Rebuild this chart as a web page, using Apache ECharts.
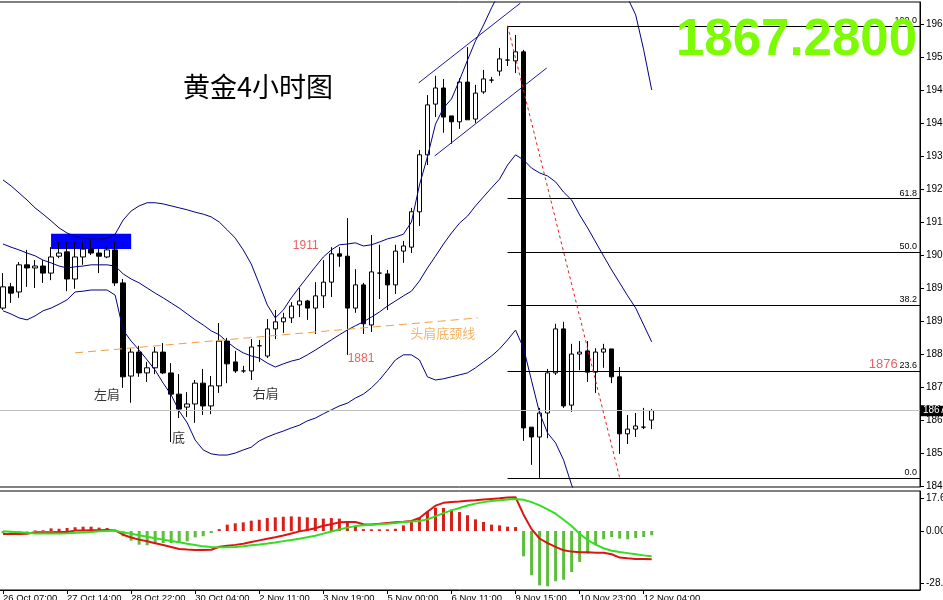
<!DOCTYPE html>
<html><head><meta charset="utf-8">
<script src="https://cdn.jsdelivr.net/npm/echarts@6.0.0/dist/echarts.min.js"></script>
<style>html,body{margin:0;padding:0;background:#fff}#c{width:943px;height:600px}</style>
</head><body><div id="c"></div>
<script>
// ---------- data ----------
const xTickIndex = [0, 8, 16, 24, 32, 40, 48, 56, 64, 72, 80];
const xTickLabels = ['26 Oct 07:00','27 Oct 14:00','28 Oct 22:00','30 Oct 04:00','2 Nov 11:00','3 Nov 19:00','5 Nov 00:00','6 Nov 11:00','9 Nov 15:00','10 Nov 23:00','12 Nov 04:00'];
const yTickValues = [1848, 1856.4, 1864.8, 1873.2, 1881.6, 1890, 1898.4, 1906.8, 1915.2, 1923.6, 1932, 1940.4, 1948.8, 1957.2, 1965.6];
const yTickLabels = ['1848','1856','1864','1873','1881','1890','1898','1906','1915','1923','1932','1940','1949','1957','1965'];
const macdTickValues = [17.6, 0, -28];
const macdTickLabels = ['17.6', '0.00', '-28.0'];

const open  = [1893.4,1898.8,1897.5,1904.4,1903.6,1904.1,1902.3,1906.6,1907.7,1900.8,1906.4,1908.4,1907.4,1906.4,1908.2,1899.8,1876.1,1882.2,1876.9,1878.2,1882.2,1876.9,1871.5,1868.2,1869.0,1874.3,1868.5,1873.6,1885.0,1879.7,1877.4,1877.4,1883.8,1881.2,1888.1,1889.9,1890.9,1894.2,1895.2,1893.4,1896.5,1900.0,1907.2,1906.6,1893.4,1899.3,1889.1,1902.3,1902.1,1899.3,1907.9,1908.9,1917.9,1932.4,1945.3,1949.4,1942.3,1940.8,1950.9,1941.5,1948.4,1951.4,1953.7,1956.5,1956.3,1958.6,1863.1,1860.6,1866.7,1876.9,1888.1,1868.7,1881.7,1882.5,1877.1,1882.2,1883.0,1875.9,1861.4,1862.6,1863.1,1864.9];
const close = [1898.8,1897.2,1904.4,1903.6,1904.1,1902.3,1906.4,1907.4,1900.8,1906.4,1908.4,1907.4,1906.6,1908.2,1899.8,1875.9,1882.2,1876.9,1878.2,1882.2,1876.9,1871.5,1867.7,1869.0,1874.3,1868.5,1873.6,1885.0,1879.2,1877.4,1877.4,1883.5,1883.8,1888.1,1889.9,1890.9,1893.9,1895.2,1893.4,1896.5,1900.0,1907.2,1906.6,1893.4,1899.3,1889.4,1902.6,1902.3,1899.3,1907.9,1909.2,1917.9,1932.4,1945.1,1949.4,1942.0,1940.8,1950.9,1941.3,1948.1,1951.7,1951.4,1956.8,1956.5,1958.6,1862.9,1860.6,1866.7,1876.9,1888.1,1868.5,1881.7,1882.2,1877.1,1882.2,1883.0,1875.9,1861.4,1862.6,1863.4,1863.1,1867.3];
const low   = [1892.9,1894.7,1896.0,1898.8,1898.5,1899.8,1900.5,1906.1,1897.7,1898.3,1904.4,1906.9,1902.3,1906.1,1899.0,1873.1,1869.3,1875.9,1874.6,1876.6,1876.6,1859.3,1865.4,1865.7,1864.2,1866.2,1866.4,1871.8,1874.3,1876.9,1876.9,1875.1,1879.7,1880.7,1885.5,1887.1,1889.6,1891.1,1890.4,1886.8,1893.4,1896.2,1903.9,1881.5,1892.2,1886.8,1887.3,1895.7,1892.9,1897.0,1904.9,1907.4,1914.3,1929.8,1942.0,1938.0,1935.2,1939.0,1941.3,1940.5,1947.9,1950.7,1952.5,1955.0,1953.2,1859.6,1853.5,1850.2,1860.3,1876.4,1868.0,1867.0,1877.6,1874.6,1871.8,1878.2,1874.3,1856.3,1858.8,1860.6,1862.6,1862.6];
const high  = [1902.3,1899.8,1905.1,1908.2,1905.6,1905.6,1908.9,1910.2,1910.2,1910.2,1910.5,1910.7,1908.4,1908.9,1910.2,1900.8,1883.2,1883.8,1879.7,1883.5,1884.5,1879.4,1876.6,1872.0,1875.1,1877.9,1876.1,1889.6,1885.8,1882.5,1878.7,1885.5,1885.3,1890.6,1892.9,1892.2,1894.9,1898.5,1895.5,1900.0,1905.6,1908.9,1908.9,1916.3,1903.3,1899.8,1912.0,1909.5,1903.1,1909.5,1910.5,1918.9,1933.6,1947.6,1952.5,1951.7,1942.3,1951.9,1959.8,1950.2,1954.0,1952.2,1959.6,1965.2,1962.9,1959.1,1863.1,1868.0,1877.9,1889.4,1889.9,1884.3,1885.0,1885.0,1883.2,1884.3,1883.0,1878.4,1866.2,1866.7,1868.0,1867.7];

const bbUpper  = [1926.0,1924.5,1922.7,1920.9,1918.9,1917.3,1915.6,1913.8,1912.5,1911.7,1911.2,1911.0,1911.0,1911.2,1912.2,1915.8,1918.1,1919.4,1920.2,1920.2,1919.9,1919.4,1918.9,1918.4,1917.8,1917.3,1916.6,1915.3,1913.3,1911.2,1908.2,1904.6,1899.5,1894.2,1890.9,1892.9,1896.0,1898.7,1901.3,1903.9,1906.4,1908.2,1909.5,1909.7,1910.0,1909.2,1909.5,1910.2,1911.0,1911.5,1912.2,1915.3,1924.7,1931.9,1940.2,1944.3,1946.6,1951.4,1956.5,1961.4,1965.4,1969.8,1973.8,1977.4,1980.7,1987.1,1993.4,1998.5,2001.0,2001.0,1999.8,1997.2,1993.4,1989.6,1985.8,1982.0,1978.2,1974.3,1972.3,1968.0,1959.1,1948.9];
const bbMiddle = [1909.7,1908.9,1908.2,1907.4,1906.7,1905.6,1904.9,1904.1,1903.6,1903.9,1904.1,1904.4,1904.4,1904.4,1904.1,1902.1,1900.8,1899.8,1898.5,1897.2,1896.0,1894.7,1893.4,1891.9,1890.4,1889.1,1887.6,1886.6,1884.8,1883.2,1882.0,1881.2,1880.7,1879.4,1878.4,1879.2,1879.9,1880.4,1881.5,1882.7,1884.0,1885.3,1886.6,1887.8,1888.9,1889.9,1891.1,1892.4,1893.9,1895.2,1896.5,1897.7,1900.3,1903.6,1906.6,1909.7,1912.5,1915.0,1916.8,1919.4,1921.7,1924.0,1926.2,1929.8,1932.4,1931.1,1929.0,1927.8,1927.0,1925.5,1922.9,1920.9,1917.1,1913.8,1910.2,1906.6,1903.1,1899.8,1896.5,1893.4,1889.1,1884.8];
const bbLower  = [1892.7,1891.9,1890.9,1890.4,1891.4,1892.7,1893.4,1894.4,1895.5,1897.5,1897.7,1898.0,1898.0,1898.0,1896.7,1887.8,1885.0,1882.7,1880.2,1877.6,1874.3,1871.3,1867.2,1864.2,1859.8,1857.3,1856.3,1856.0,1856.0,1856.5,1857.3,1858.0,1859.6,1860.6,1861.4,1862.1,1862.9,1863.6,1864.7,1865.4,1866.5,1867.5,1868.5,1869.2,1870.5,1871.5,1873.1,1875.1,1877.6,1880.2,1881.5,1881.5,1880.2,1875.9,1875.1,1875.4,1875.9,1876.4,1876.9,1878.2,1879.7,1881.2,1883.0,1885.3,1887.8,1883.2,1874.9,1866.7,1861.6,1859.1,1854.7,1848.4,1843.3,1839.5,1836.9,1835.7,1834.4,1833.1,1831.8,1831.8,1832.3,1833.1];

const macdHist   = [-1.2,-1.0,-0.8,-0.3,0.3,0.4,1.4,1.2,1.6,2.0,2.3,2.3,1.8,1.6,0.3,-2.8,-5.2,-7.3,-7.6,-6.9,-6.4,-6.4,-6.0,-5.5,-3.4,-2.8,-1.1,1.0,3.4,4.1,4.6,5.5,6.0,6.9,7.3,7.6,7.8,7.6,7.3,6.9,6.6,6.9,6.6,4.8,2.5,1.0,0.9,0.9,0.9,1.2,3.0,4.8,6.9,10.5,12.4,12.3,11.4,10.1,8.4,6.2,4.8,3.4,3.0,2.3,2.1,-13.5,-23.6,-29.0,-29.5,-26.8,-26.0,-21.9,-16.5,-12.1,-7.6,-4.4,-3.2,-4.1,-4.4,-3.7,-3.2,-2.3];
const macdMain   = [-1.6,-1.6,-1.6,-1.5,-0.7,-0.7,-0.7,-0.6,-0.5,0.2,0.3,0.4,0.4,0.5,0.3,-2.0,-3.5,-4.6,-5.5,-6.5,-7.5,-8.5,-9.6,-9.9,-10.1,-10.1,-10.0,-8.4,-7.9,-7.4,-6.8,-5.9,-5.0,-4.1,-3.3,-2.4,-1.3,-0.2,0.5,1.5,2.8,3.6,4.6,4.8,4.8,3.6,3.5,3.8,4.2,4.6,4.9,5.3,6.9,10.3,13.5,15.0,15.4,15.7,16.1,16.4,16.8,17.1,17.4,17.8,18.0,8.7,1.0,-4.0,-6.5,-8.5,-10.3,-11.0,-11.3,-11.3,-11.6,-11.6,-12.4,-14.2,-14.6,-14.9,-15.0,-15.1];
const macdSignal = [-0.2,-0.4,-0.7,-1.0,-1.3,-1.4,-1.4,-1.3,-1.2,-1.0,-0.8,-0.5,-0.2,0.0,0.2,-0.8,-1.4,-2.3,-3.1,-3.9,-4.6,-5.3,-6.0,-6.8,-7.5,-8.2,-8.6,-8.7,-8.7,-8.5,-8.1,-7.6,-7.2,-6.7,-6.1,-5.4,-4.8,-4.1,-3.3,-2.5,-1.4,-0.3,0.8,1.8,2.6,3.0,3.3,3.6,3.9,4.3,4.8,5.0,5.3,6.2,7.8,9.5,11.0,12.3,13.6,14.6,15.4,16.0,16.4,16.8,17.1,16.7,15.4,13.7,11.5,9.2,6.0,2.7,-1.5,-4.8,-7.3,-9.2,-10.5,-11.2,-11.8,-12.4,-13.0,-13.5];

const lastPrice = 1867.28;
const fibAnchorX = [63, 77];
const fibAnchorY = [1965.2, 1850.2];
const fibRatios = [0, 23.6, 38.2, 50, 61.8, 100];
const necklineX = [9.0, 59.3], necklineY = [1882.0, 1890.9];
const channelUpX = [51.9, 64.6], channelUpY = [1950.7, 1971.0];
const channelLoX = [53.9, 67.9], channelLoY = [1932.1, 1954.5];
const boxX = [6.0, 16.0], boxY = [1912.3, 1908.4];

// ---------- chart ----------
const SLOTS = 115;
const categories = Array.from({length: SLOTS}, (_, i) => String(i));
const candleData = open.map((o, i) => [o, close[i], low[i], high[i]]);
const fibHi = fibAnchorY[0], fibLo = fibAnchorY[1];
const F = 'Liberation Sans, Arial, sans-serif';
const CJK = 'Noto Sans CJK SC, sans-serif';
const tickShown = (idx) => xTickIndex.indexOf(idx) >= 0;
const pair = (xs, ys) => [[xs[0], ys[0]], [xs[1], ys[1]]];

const chart = echarts.init(document.getElementById('c'));
chart.setOption({
  animation: false,
  backgroundColor: '#fff',
  title: [
    {text: '黄金4小时图', left: 183, top: 73, padding: 0, textStyle: {fontFamily: CJK, fontSize: 27, fontWeight: 'normal', color: '#000'}},
    {text: '1867.2800', right: 26, top: 15, padding: 0, textStyle: {fontFamily: F, fontSize: 51, fontWeight: 'bold', color: '#7CFC00'}}
  ],
  grid: [
    {left: -1, top: 2, width: 921, height: 485, show: true, borderColor: '#000', borderWidth: 1, outerBoundsMode: 'none', containLabel: false},
    {left: -1, top: 491, width: 921, height: 99, show: true, borderColor: '#000', borderWidth: 1, outerBoundsMode: 'none', containLabel: false}
  ],
  xAxis: [
    {type: 'category', gridIndex: 0, data: categories, boundaryGap: true, axisLine: {show: false}, axisTick: {show: false}, axisLabel: {show: false}, splitLine: {show: false}},
    {type: 'value', gridIndex: 0, min: -0.5, max: SLOTS - 0.5, show: false},
    {type: 'category', gridIndex: 1, data: categories, boundaryGap: true,
     axisLine: {show: true, onZero: false, lineStyle: {color: '#000'}},
     axisTick: {show: true, alignWithLabel: true, interval: tickShown, length: 4, lineStyle: {color: '#000'}},
     axisLabel: {show: true, interval: tickShown, formatter: (v, idx) => xTickLabels[xTickIndex.indexOf(idx)] || '', align: 'left', margin: 3, fontSize: 9.5, color: '#000', fontFamily: F},
     splitLine: {show: false}}
  ],
  yAxis: [
    {type: 'value', gridIndex: 0, position: 'right', min: 1847.87, max: 1971.28,
     axisLine: {show: true, onZero: false, lineStyle: {color: '#000'}},
     axisTick: {show: true, customValues: yTickValues, length: 4, lineStyle: {color: '#000'}},
     axisLabel: {show: true, customValues: yTickValues, margin: 6, fontSize: 10, color: '#000', fontFamily: F,
       formatter: (v) => { const k = yTickValues.findIndex(t => Math.abs(t - v) < 1e-6); return k >= 0 ? yTickLabels[k] : ''; }},
     splitLine: {show: false}},
    {type: 'value', gridIndex: 1, position: 'right', min: -31.47, max: 21.33,
     axisLine: {show: true, onZero: false, lineStyle: {color: '#000'}},
     axisTick: {show: true, customValues: macdTickValues, length: 4, lineStyle: {color: '#000'}},
     axisLabel: {show: true, customValues: macdTickValues, margin: 6, fontSize: 10, color: '#000', fontFamily: F,
       formatter: (v) => { const k = macdTickValues.findIndex(t => Math.abs(t - v) < 1e-6); return k >= 0 ? macdTickLabels[k] : ''; }},
     splitLine: {show: false}}
  ],
  series: [
    {name: 'box', type: 'line', xAxisIndex: 1, yAxisIndex: 0, data: [], z: 1, silent: true,
     markArea: {silent: true, itemStyle: {color: '#0000FF', opacity: 1}, data: [[{coord: [boxX[0], boxY[0]]}, {coord: [boxX[1], boxY[1]]}]]}},
    {name: 'price', type: 'candlestick', xAxisIndex: 0, yAxisIndex: 0, data: candleData, barWidth: 5, z: 3,
     itemStyle: {color: '#fff', color0: '#000', borderColor: '#000', borderColor0: '#000', borderWidth: 1},
     markLine: {silent: true, symbol: ['none', 'none'], animation: false,
       lineStyle: {color: '#C0C0C0', type: 'solid', width: 1},
       label: {show: true, position: 'end', distance: 1, formatter: () => String(Math.floor(lastPrice)), backgroundColor: '#000', color: '#fff', fontSize: 10, fontFamily: F, padding: [1, 3, 0, 2]},
       data: [{yAxis: lastPrice}]}},
    {name: 'bbUpper', type: 'line', xAxisIndex: 0, yAxisIndex: 0, data: bbUpper, symbol: 'none', z: 4, clip: true, lineStyle: {color: '#000080', width: 1}},
    {name: 'bbMiddle', type: 'line', xAxisIndex: 0, yAxisIndex: 0, data: bbMiddle, symbol: 'none', z: 4, clip: true, lineStyle: {color: '#000080', width: 1}},
    {name: 'bbLower', type: 'line', xAxisIndex: 0, yAxisIndex: 0, data: bbLower, symbol: 'none', z: 4, clip: true, lineStyle: {color: '#000080', width: 1}},
    {name: 'neckline', type: 'line', xAxisIndex: 1, yAxisIndex: 0, data: pair(necklineX, necklineY), symbol: 'none', z: 5, lineStyle: {color: '#F0A040', width: 1, type: [8, 5]}},
    {name: 'channelUp', type: 'line', xAxisIndex: 1, yAxisIndex: 0, data: pair(channelUpX, channelUpY), symbol: 'none', z: 5, clip: true, lineStyle: {color: '#1A1AA0', width: 1}},
    {name: 'channelLo', type: 'line', xAxisIndex: 1, yAxisIndex: 0, data: pair(channelLoX, channelLoY), symbol: 'none', z: 5, clip: true, lineStyle: {color: '#1A1AA0', width: 1}},
    {name: 'fib', type: 'line', xAxisIndex: 1, yAxisIndex: 0, data: pair(fibAnchorX, fibAnchorY), symbol: 'none', z: 5,
     lineStyle: {color: '#E02020', width: 1, type: [3, 3]},
     markLine: {silent: true, symbol: ['none', 'none'], animation: false,
       lineStyle: {color: '#000', type: 'solid', width: 1},
       label: {show: true, position: 'insideEndTop', distance: [3, 1], fontSize: 9, color: '#000', fontFamily: F},
       data: fibRatios.map(r => {
         const v = fibLo + (fibHi - fibLo) * r / 100;
         return [{coord: [fibAnchorX[0], v], label: {formatter: r.toFixed(1)}}, {coord: [SLOTS - 0.5, v]}];
       })}},
    {name: 'notes', type: 'scatter', xAxisIndex: 1, yAxisIndex: 0, symbolSize: 0, silent: true, z: 6,
     label: {show: true, position: 'inside', fontFamily: CJK, fontSize: 13, color: '#000'},
     data: [
       {value: [13.0, 1871.5], label: {formatter: '左肩'}},
       {value: [21.9, 1860.6], label: {formatter: '底'}},
       {value: [32.8, 1871.8], label: {formatter: '右肩'}},
       {value: [37.8, 1909.2], label: {formatter: '1911', color: '#E03A3A', fontFamily: F, fontSize: 12}},
       {value: [44.7, 1880.4], label: {formatter: '1881', color: '#E03A3A', fontFamily: F, fontSize: 12}},
       {value: [54.9, 1887.1], label: {formatter: '头肩底颈线', color: '#F0A040', fontSize: 13}},
       {value: [109.9, 1879.0], label: {formatter: '1876', color: '#E03A3A', fontFamily: F, fontSize: 13}}
     ]},
    {name: 'hist', type: 'bar', xAxisIndex: 2, yAxisIndex: 1, data: macdHist, barWidth: 3, z: 2,
     itemStyle: {color: (p) => p.value >= 0 ? '#D8201A' : '#5CBE3C'}},
    {name: 'macd', type: 'line', xAxisIndex: 2, yAxisIndex: 1, data: macdMain, symbol: 'none', z: 3, lineStyle: {color: '#DD1414', width: 2}},
    {name: 'signal', type: 'line', xAxisIndex: 2, yAxisIndex: 1, data: macdSignal, symbol: 'none', z: 4, lineStyle: {color: '#33DD22', width: 2}}
  ]
});
</script>
</body></html>
